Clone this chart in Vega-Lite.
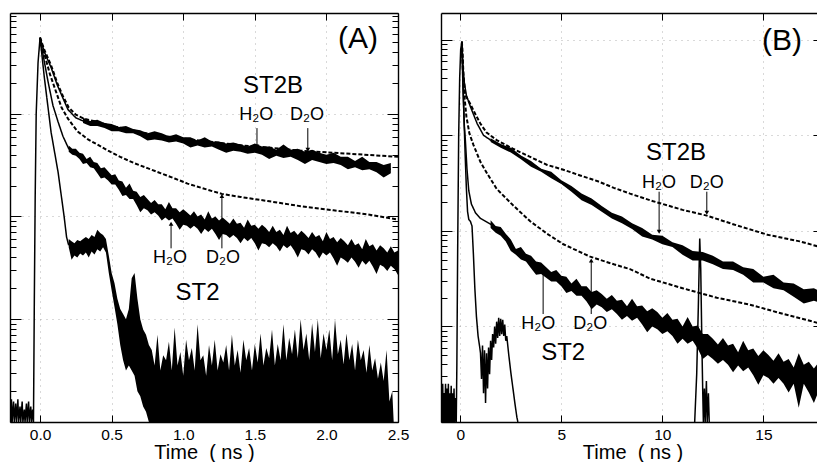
{
"$schema": "https://vega.github.io/schema/vega-lite/v6.json",
"padding": {"left": 9, "top": 12, "right": 0, "bottom": 0},
"background": "white",
"spacing": 43,
"bounds": "flush",
"config": {
  "view": {"stroke": null},
  "font": "Liberation Sans",
  "axis": {"domainColor": "#000", "domainWidth": 1.4, "tickColor": "#000", "tickWidth": 1, "labelColor": "#000", "titleColor": "#000", "labelFont": "Liberation Sans", "titleFont": "Liberation Sans", "labelFontSize": 15.5, "titleFontSize": 20, "titleFontWeight": "normal", "gridColor": "#777", "gridDash": [1, 5], "labelFlush": false, "labelOverlap": false}
},
"hconcat": [
{
  "width": 388, "height": 409,
  "layer": [
    {
      "data": {"name": "bandsA"},
      "mark": {"type": "area", "clip": true, "color": "#000", "opacity": 1},
      "encoding": {
        "x": {"field": "t", "type": "quantitative", "scale": {"domain": [-0.21, 2.5], "nice": false, "zero": false},
              "axis": {"orient": "bottom", "values": [0, 0.5, 1, 1.5, 2, 2.5], "format": ".1f", "title": "Time\u00a0\u00a0( ns )", "tickSize": -7, "labelPadding": 12, "titlePadding": 0, "grid": true, "gridOpacity": 0.55}},
        "y": {"field": "hi", "type": "quantitative", "scale": {"domain": [0, 3.98], "nice": false, "zero": false},
              "axis": {"orient": "left", "labels": false, "title": null, "values": [0,0.301,0.477,0.602,0.699,0.778,0.845,0.903,0.954,1,1.301,1.477,1.602,1.699,1.778,1.845,1.903,1.954,2,2.301,2.477,2.602,2.699,2.778,2.845,2.903,2.954,3,3.301,3.477,3.602,3.699,3.778,3.845,3.903,3.954],
                       "tickSize": {"condition": {"test": "datum.value % 1 === 0", "value": -11}, "value": -6},
                       "grid": true, "gridOpacity": {"condition": {"test": "datum.value % 1 === 0", "value": 0.55}, "value": 0}}},
        "y2": {"field": "lo"},
        "detail": {"field": "series", "type": "nominal"}
      }
    },
    {
      "data": {"name": "curvesA"},
      "mark": {"type": "line", "clip": true, "color": "#000"},
      "encoding": {
        "x": {"field": "t", "type": "quantitative", "scale": {"domain": [-0.21, 2.5], "nice": false, "zero": false}, "axis": null},
        "y": {"field": "logI", "type": "quantitative", "scale": {"domain": [0, 3.98], "nice": false, "zero": false}, "axis": null},
        "detail": {"field": "series", "type": "nominal"},
        "strokeDash": {"field": "style", "type": "nominal", "scale": {"domain": ["solid", "dotted"], "range": [[1, 0], [4, 2]]}, "legend": null},
        "strokeWidth": {"field": "style", "type": "nominal", "scale": {"domain": ["solid", "dotted"], "range": [1.5, 2]}, "legend": null}
      }
    },
    {
      "data": {"name": "annotA"},
      "transform": [{"filter": "datum.kind === 'arrow'"}],
      "mark": {"type": "rule", "color": "#000", "strokeWidth": 1},
      "encoding": {
        "x": {"field": "t", "type": "quantitative", "scale": {"domain": [-0.21, 2.5], "nice": false, "zero": false}, "axis": null},
        "y": {"field": "logI", "type": "quantitative", "scale": {"domain": [0, 3.98], "nice": false, "zero": false}, "axis": null},
        "y2": {"field": "logI2"}
      }
    },
    {
      "data": {"name": "annotA"},
      "transform": [{"filter": "datum.kind === 'arrow'"}],
      "mark": {"type": "point", "filled": true, "color": "#000", "opacity": 1, "size": 22},
      "encoding": {
        "x": {"field": "t", "type": "quantitative", "scale": {"domain": [-0.21, 2.5], "nice": false, "zero": false}, "axis": null},
        "y": {"field": "logI2", "type": "quantitative", "scale": {"domain": [0, 3.98], "nice": false, "zero": false}, "axis": null},
        "shape": {"field": "dir", "type": "nominal", "scale": {"domain": ["down", "up"], "range": ["triangle-down", "triangle-up"]}, "legend": null}
      }
    },
    {
      "data": {"name": "annotA"},
      "transform": [{"filter": "datum.kind !== 'arrow'"}],
      "mark": {"type": "text", "color": "#000", "align": "center", "baseline": "middle", "font": "Liberation Sans"},
      "encoding": {
        "x": {"field": "t", "type": "quantitative", "scale": {"domain": [-0.21, 2.5], "nice": false, "zero": false},
              "axis": {"orient": "top", "values": [0, 0.5, 1, 1.5, 2, 2.5], "labels": false, "title": null, "tickSize": -7, "grid": false}},
        "y": {"field": "logI", "type": "quantitative", "scale": {"domain": [0, 3.98], "nice": false, "zero": false},
              "axis": {"orient": "right", "labels": false, "title": null, "grid": false, "values": [0,0.301,0.477,0.602,0.699,0.778,0.845,0.903,0.954,1,1.301,1.477,1.602,1.699,1.778,1.845,1.903,1.954,2,2.301,2.477,2.602,2.699,2.778,2.845,2.903,2.954,3,3.301,3.477,3.602,3.699,3.778,3.845,3.903,3.954],
                       "tickSize": {"condition": {"test": "datum.value % 1 === 0", "value": -11}, "value": -6}}},
        "text": {"field": "label", "type": "nominal"},
        "size": {"field": "kind", "type": "nominal", "scale": {"domain": ["panel", "name", "solvent"], "range": [30, 18, 15.5]}, "legend": null}
      }
    }
  ],
  "resolve": {"axis": {"x": "independent", "y": "independent"}}
},
{
  "width": 383, "height": 409,
  "layer": [
    {
      "data": {"name": "bandsB"},
      "mark": {"type": "area", "clip": true, "color": "#000", "opacity": 1},
      "encoding": {
        "x": {"field": "t", "type": "quantitative", "scale": {"domain": [-0.955, 18], "nice": false, "zero": false},
              "axis": {"orient": "bottom", "values": [0, 5, 10, 15], "format": "d", "title": "Time\u00a0\u00a0( ns )", "tickSize": -7, "labelPadding": 12, "titlePadding": 0, "grid": true, "gridOpacity": 0.55}},
        "y": {"field": "hi", "type": "quantitative", "scale": {"domain": [0, 4.28], "nice": false, "zero": false},
              "axis": {"orient": "left", "labels": false, "title": null, "values": [0,0.301,0.477,0.602,0.699,0.778,0.845,0.903,0.954,1,1.301,1.477,1.602,1.699,1.778,1.845,1.903,1.954,2,2.301,2.477,2.602,2.699,2.778,2.845,2.903,2.954,3,3.301,3.477,3.602,3.699,3.778,3.845,3.903,3.954,4],
                       "tickSize": {"condition": {"test": "datum.value % 1 === 0", "value": -11}, "value": -6},
                       "grid": true, "gridOpacity": {"condition": {"test": "datum.value % 1 === 0", "value": 0.55}, "value": 0}}},
        "y2": {"field": "lo"},
        "detail": {"field": "series", "type": "nominal"}
      }
    },
    {
      "data": {"name": "curvesB"},
      "mark": {"type": "line", "clip": true, "color": "#000"},
      "encoding": {
        "x": {"field": "t", "type": "quantitative", "scale": {"domain": [-0.955, 18], "nice": false, "zero": false}, "axis": null},
        "y": {"field": "logI", "type": "quantitative", "scale": {"domain": [0, 4.28], "nice": false, "zero": false}, "axis": null},
        "detail": {"field": "series", "type": "nominal"},
        "strokeDash": {"field": "style", "type": "nominal", "scale": {"domain": ["solid", "dotted"], "range": [[1, 0], [4, 2]]}, "legend": null},
        "strokeWidth": {"field": "style", "type": "nominal", "scale": {"domain": ["solid", "dotted"], "range": [1.5, 2]}, "legend": null}
      }
    },
    {
      "data": {"name": "annotB"},
      "transform": [{"filter": "datum.kind === 'arrow'"}],
      "mark": {"type": "rule", "color": "#000", "strokeWidth": 1},
      "encoding": {
        "x": {"field": "t", "type": "quantitative", "scale": {"domain": [-0.955, 18], "nice": false, "zero": false}, "axis": null},
        "y": {"field": "logI", "type": "quantitative", "scale": {"domain": [0, 4.28], "nice": false, "zero": false}, "axis": null},
        "y2": {"field": "logI2"}
      }
    },
    {
      "data": {"name": "annotB"},
      "transform": [{"filter": "datum.kind === 'arrow'"}],
      "mark": {"type": "point", "filled": true, "color": "#000", "opacity": 1, "size": 22},
      "encoding": {
        "x": {"field": "t", "type": "quantitative", "scale": {"domain": [-0.955, 18], "nice": false, "zero": false}, "axis": null},
        "y": {"field": "logI2", "type": "quantitative", "scale": {"domain": [0, 4.28], "nice": false, "zero": false}, "axis": null},
        "shape": {"field": "dir", "type": "nominal", "scale": {"domain": ["down", "up"], "range": ["triangle-down", "triangle-up"]}, "legend": null}
      }
    },
    {
      "data": {"name": "annotB"},
      "transform": [{"filter": "datum.kind !== 'arrow'"}],
      "mark": {"type": "text", "color": "#000", "align": "center", "baseline": "middle", "font": "Liberation Sans"},
      "encoding": {
        "x": {"field": "t", "type": "quantitative", "scale": {"domain": [-0.955, 18], "nice": false, "zero": false},
              "axis": {"orient": "top", "values": [0, 5, 10, 15], "labels": false, "title": null, "tickSize": -7, "grid": false}},
        "y": {"field": "logI", "type": "quantitative", "scale": {"domain": [0, 4.28], "nice": false, "zero": false},
              "axis": {"orient": "right", "labels": false, "title": null, "grid": false, "values": [0,0.301,0.477,0.602,0.699,0.778,0.845,0.903,0.954,1,1.301,1.477,1.602,1.699,1.778,1.845,1.903,1.954,2,2.301,2.477,2.602,2.699,2.778,2.845,2.903,2.954,3,3.301,3.477,3.602,3.699,3.778,3.845,3.903,3.954,4],
                       "tickSize": {"condition": {"test": "datum.value % 1 === 0", "value": -11}, "value": -6}}},
        "text": {"field": "label", "type": "nominal"},
        "size": {"field": "kind", "type": "nominal", "scale": {"domain": ["panel", "name", "solvent"], "range": [30, 18, 15.5]}, "legend": null}
      }
    }
  ],
  "resolve": {"axis": {"x": "independent", "y": "independent"}}
}
],
"datasets": {
"annotA": [
  {"kind": "panel", "label": "(A)", "t": 2.22, "logI": 3.73},
  {"kind": "name", "label": "ST2B", "t": 1.627, "logI": 3.27},
  {"kind": "solvent", "label": "H₂O", "t": 1.51, "logI": 2.99},
  {"kind": "solvent", "label": "D₂O", "t": 1.865, "logI": 2.99},
  {"kind": "solvent", "label": "H₂O", "t": 0.908, "logI": 1.6},
  {"kind": "solvent", "label": "D₂O", "t": 1.278, "logI": 1.6},
  {"kind": "name", "label": "ST2", "t": 1.1, "logI": 1.26},
  {"kind": "arrow", "dir": "down", "t": 1.515, "logI": 2.86, "logI2": 2.68},
  {"kind": "arrow", "dir": "down", "t": 1.87, "logI": 2.86, "logI2": 2.65},
  {"kind": "arrow", "dir": "up", "t": 0.915, "logI": 1.69, "logI2": 1.93},
  {"kind": "arrow", "dir": "up", "t": 1.27, "logI": 1.69, "logI2": 2.2}
],
"annotB": [
  {"kind": "panel", "label": "(B)", "t": 15.92, "logI": 3.99},
  {"kind": "name", "label": "ST2B", "t": 10.68, "logI": 2.81},
  {"kind": "solvent", "label": "H₂O", "t": 9.84, "logI": 2.5},
  {"kind": "solvent", "label": "D₂O", "t": 12.2, "logI": 2.5},
  {"kind": "solvent", "label": "H₂O", "t": 3.86, "logI": 1.03},
  {"kind": "solvent", "label": "D₂O", "t": 6.43, "logI": 1.03},
  {"kind": "name", "label": "ST2", "t": 5.09, "logI": 0.72},
  {"kind": "arrow", "dir": "down", "t": 9.84, "logI": 2.41, "logI2": 1.99},
  {"kind": "arrow", "dir": "down", "t": 12.2, "logI": 2.41, "logI2": 2.19},
  {"kind": "arrow", "dir": "up", "t": 4.1, "logI": 1.13, "logI2": 1.58},
  {"kind": "arrow", "dir": "up", "t": 6.48, "logI": 1.13, "logI2": 1.69}
],
"bandsA": [
{"series":"IRF","t":0.2,"lo":1.7,"hi":1.78},{"series":"IRF","t":0.22,"lo":1.58,"hi":1.76},{"series":"IRF","t":0.24,"lo":1.62,"hi":1.74},{"series":"IRF","t":0.26,"lo":1.6,"hi":1.77},{"series":"IRF","t":0.28,"lo":1.64,"hi":1.76},{"series":"IRF","t":0.3,"lo":1.62,"hi":1.78},{"series":"IRF","t":0.32,"lo":1.65,"hi":1.8},{"series":"IRF","t":0.34,"lo":1.6,"hi":1.78},{"series":"IRF","t":0.36,"lo":1.66,"hi":1.82},{"series":"IRF","t":0.38,"lo":1.63,"hi":1.8},{"series":"IRF","t":0.4,"lo":1.68,"hi":1.87},{"series":"IRF","t":0.42,"lo":1.66,"hi":1.84},{"series":"IRF","t":0.44,"lo":1.7,"hi":1.82},{"series":"IRF","t":0.46,"lo":1.65,"hi":1.78},{"series":"IRF","t":0.48,"lo":1.45,"hi":1.62},{"series":"IRF","t":0.5,"lo":1.28,"hi":1.45},{"series":"IRF","t":0.52,"lo":1.12,"hi":1.35},{"series":"IRF","t":0.54,"lo":0.95,"hi":1.2},{"series":"IRF","t":0.56,"lo":0.75,"hi":1.1},{"series":"IRF","t":0.58,"lo":0.6,"hi":1.05},{"series":"IRF","t":0.6,"lo":0.5,"hi":1.0},{"series":"IRF","t":0.62,"lo":0.55,"hi":1.1},{"series":"IRF","t":0.64,"lo":0.5,"hi":1.4},{"series":"IRF","t":0.66,"lo":0.45,"hi":1.45},{"series":"IRF","t":0.68,"lo":0.3,"hi":1.2},{"series":"IRF","t":0.7,"lo":0.25,"hi":1.0},{"series":"IRF","t":0.72,"lo":0.15,"hi":0.9},{"series":"IRF","t":0.74,"lo":0.1,"hi":0.85},{"series":"IRF","t":0.76,"lo":0,"hi":0.75},
{"series":"IRF","t":0.78,"lo":0,"hi":0.7},{"series":"IRF","t":0.8,"lo":0,"hi":0.55},{"series":"IRF","t":0.82,"lo":0,"hi":0.85},{"series":"IRF","t":0.84,"lo":0,"hi":0.5},{"series":"IRF","t":0.86,"lo":0,"hi":0.65},{"series":"IRF","t":0.88,"lo":0,"hi":0.6},{"series":"IRF","t":0.9,"lo":0,"hi":0.78},{"series":"IRF","t":0.92,"lo":0,"hi":0.5},{"series":"IRF","t":0.94,"lo":0,"hi":0.92},{"series":"IRF","t":0.96,"lo":0,"hi":0.55},{"series":"IRF","t":0.98,"lo":0,"hi":0.68},{"series":"IRF","t":1.0,"lo":0,"hi":0.45},{"series":"IRF","t":1.02,"lo":0,"hi":0.8},{"series":"IRF","t":1.04,"lo":0,"hi":0.6},{"series":"IRF","t":1.06,"lo":0,"hi":0.72},{"series":"IRF","t":1.08,"lo":0,"hi":0.5},{"series":"IRF","t":1.1,"lo":0,"hi":0.95},{"series":"IRF","t":1.12,"lo":0,"hi":0.6},{"series":"IRF","t":1.14,"lo":0,"hi":0.65},{"series":"IRF","t":1.16,"lo":0,"hi":0.45},{"series":"IRF","t":1.18,"lo":0,"hi":0.75},{"series":"IRF","t":1.2,"lo":0,"hi":0.55},{"series":"IRF","t":1.22,"lo":0,"hi":0.8},{"series":"IRF","t":1.24,"lo":0,"hi":0.5},{"series":"IRF","t":1.26,"lo":0,"hi":0.66},{"series":"IRF","t":1.28,"lo":0,"hi":0.58},{"series":"IRF","t":1.3,"lo":0,"hi":0.75},{"series":"IRF","t":1.32,"lo":0,"hi":0.5},{"series":"IRF","t":1.34,"lo":0,"hi":0.85},{"series":"IRF","t":1.36,"lo":0,"hi":0.55},{"series":"IRF","t":1.38,"lo":0,"hi":0.7},{"series":"IRF","t":1.4,"lo":0,"hi":0.48},{"series":"IRF","t":1.42,"lo":0,"hi":0.8},{"series":"IRF","t":1.44,"lo":0,"hi":0.6},{"series":"IRF","t":1.46,"lo":0,"hi":0.72},{"series":"IRF","t":1.48,"lo":0,"hi":0.5},{"series":"IRF","t":1.5,"lo":0,"hi":0.76},{"series":"IRF","t":1.52,"lo":0,"hi":0.58},{"series":"IRF","t":1.54,"lo":0,"hi":0.86},{"series":"IRF","t":1.56,"lo":0,"hi":0.55},{"series":"IRF","t":1.58,"lo":0,"hi":0.72},{"series":"IRF","t":1.6,"lo":0,"hi":0.62},{"series":"IRF","t":1.62,"lo":0,"hi":0.9},{"series":"IRF","t":1.64,"lo":0,"hi":0.55},{"series":"IRF","t":1.66,"lo":0,"hi":0.76},{"series":"IRF","t":1.68,"lo":0,"hi":0.6},{"series":"IRF","t":1.7,"lo":0,"hi":0.95},{"series":"IRF","t":1.72,"lo":0,"hi":0.6},{"series":"IRF","t":1.74,"lo":0,"hi":0.82},{"series":"IRF","t":1.76,"lo":0,"hi":0.66},{"series":"IRF","t":1.78,"lo":0,"hi":0.9},{"series":"IRF","t":1.8,"lo":0,"hi":0.62},{"series":"IRF","t":1.82,"lo":0,"hi":1.0},{"series":"IRF","t":1.84,"lo":0,"hi":0.7},{"series":"IRF","t":1.86,"lo":0,"hi":0.86},{"series":"IRF","t":1.88,"lo":0,"hi":0.6},{"series":"IRF","t":1.9,"lo":0,"hi":0.96},{"series":"IRF","t":1.92,"lo":0,"hi":0.68},{"series":"IRF","t":1.94,"lo":0,"hi":1.0},{"series":"IRF","t":1.96,"lo":0,"hi":0.62},{"series":"IRF","t":1.98,"lo":0,"hi":0.86},{"series":"IRF","t":2.0,"lo":0,"hi":0.7},{"series":"IRF","t":2.02,"lo":0,"hi":0.9},{"series":"IRF","t":2.04,"lo":0,"hi":0.6},{"series":"IRF","t":2.06,"lo":0,"hi":1.0},{"series":"IRF","t":2.08,"lo":0,"hi":0.66},{"series":"IRF","t":2.1,"lo":0,"hi":0.8},{"series":"IRF","t":2.12,"lo":0,"hi":0.56},{"series":"IRF","t":2.14,"lo":0,"hi":0.86},{"series":"IRF","t":2.16,"lo":0,"hi":0.6},{"series":"IRF","t":2.18,"lo":0,"hi":0.76},{"series":"IRF","t":2.2,"lo":0,"hi":0.5},{"series":"IRF","t":2.22,"lo":0,"hi":0.8},{"series":"IRF","t":2.24,"lo":0,"hi":0.6},{"series":"IRF","t":2.26,"lo":0,"hi":0.7},{"series":"IRF","t":2.28,"lo":0,"hi":0.48},{"series":"IRF","t":2.3,"lo":0,"hi":0.75},{"series":"IRF","t":2.32,"lo":0,"hi":0.5},{"series":"IRF","t":2.34,"lo":0,"hi":0.62},{"series":"IRF","t":2.36,"lo":0,"hi":0.42},{"series":"IRF","t":2.38,"lo":0,"hi":0.58},{"series":"IRF","t":2.4,"lo":0,"hi":0.4},{"series":"IRF","t":2.42,"lo":0,"hi":0.7},{"series":"IRF","t":2.44,"lo":0,"hi":0.2},{"series":"IRF","t":2.46,"lo":0,"hi":0.3},{"series":"IRF","t":2.47,"lo":0,"hi":0},
{"series":"ST2_H2O","t":0.2,"lo":2.63,"hi":2.69},{"series":"ST2_H2O","t":0.225,"lo":2.6,"hi":2.66},{"series":"ST2_H2O","t":0.25,"lo":2.59,"hi":2.66},{"series":"ST2_H2O","t":0.275,"lo":2.56,"hi":2.62},{"series":"ST2_H2O","t":0.3,"lo":2.51,"hi":2.61},{"series":"ST2_H2O","t":0.325,"lo":2.52,"hi":2.56},{"series":"ST2_H2O","t":0.35,"lo":2.48,"hi":2.58},{"series":"ST2_H2O","t":0.375,"lo":2.47,"hi":2.53},{"series":"ST2_H2O","t":0.4,"lo":2.42,"hi":2.52},{"series":"ST2_H2O","t":0.425,"lo":2.37,"hi":2.47},{"series":"ST2_H2O","t":0.45,"lo":2.38,"hi":2.48},{"series":"ST2_H2O","t":0.475,"lo":2.35,"hi":2.44},{"series":"ST2_H2O","t":0.5,"lo":2.31,"hi":2.4},{"series":"ST2_H2O","t":0.525,"lo":2.31,"hi":2.41},{"series":"ST2_H2O","t":0.55,"lo":2.26,"hi":2.35},{"series":"ST2_H2O","t":0.575,"lo":2.2,"hi":2.34},{"series":"ST2_H2O","t":0.6,"lo":2.21,"hi":2.28},{"series":"ST2_H2O","t":0.625,"lo":2.17,"hi":2.32},{"series":"ST2_H2O","t":0.65,"lo":2.17,"hi":2.25},{"series":"ST2_H2O","t":0.675,"lo":2.11,"hi":2.24},{"series":"ST2_H2O","t":0.7,"lo":2.04,"hi":2.19},{"series":"ST2_H2O","t":0.725,"lo":2.08,"hi":2.21},{"series":"ST2_H2O","t":0.75,"lo":2.06,"hi":2.17},{"series":"ST2_H2O","t":0.775,"lo":2.02,"hi":2.13},{"series":"ST2_H2O","t":0.8,"lo":2.04,"hi":2.16},{"series":"ST2_H2O","t":0.825,"lo":2.01,"hi":2.12},{"series":"ST2_H2O","t":0.85,"lo":1.96,"hi":2.12},{"series":"ST2_H2O","t":0.875,"lo":1.99,"hi":2.07},{"series":"ST2_H2O","t":0.9,"lo":1.96,"hi":2.14},{"series":"ST2_H2O","t":0.925,"lo":1.98,"hi":2.08},{"series":"ST2_H2O","t":0.95,"lo":1.93,"hi":2.08},{"series":"ST2_H2O","t":0.975,"lo":1.87,"hi":2.04},{"series":"ST2_H2O","t":1.0,"lo":1.92,"hi":2.07},{"series":"ST2_H2O","t":1.025,"lo":1.91,"hi":2.04},{"series":"ST2_H2O","t":1.05,"lo":1.88,"hi":2.01},{"series":"ST2_H2O","t":1.075,"lo":1.91,"hi":2.05},{"series":"ST2_H2O","t":1.1,"lo":1.88,"hi":2.0},{"series":"ST2_H2O","t":1.125,"lo":1.83,"hi":2.02},{"series":"ST2_H2O","t":1.15,"lo":1.88,"hi":1.97},{"series":"ST2_H2O","t":1.175,"lo":1.85,"hi":2.05},{"series":"ST2_H2O","t":1.2,"lo":1.88,"hi":1.98},{"series":"ST2_H2O","t":1.225,"lo":1.83,"hi":2.0},{"series":"ST2_H2O","t":1.25,"lo":1.77,"hi":1.96},{"series":"ST2_H2O","t":1.275,"lo":1.83,"hi":1.99},{"series":"ST2_H2O","t":1.3,"lo":1.82,"hi":1.96},{"series":"ST2_H2O","t":1.325,"lo":1.79,"hi":1.93},{"series":"ST2_H2O","t":1.35,"lo":1.82,"hi":1.98},{"series":"ST2_H2O","t":1.375,"lo":1.79,"hi":1.93},{"series":"ST2_H2O","t":1.4,"lo":1.74,"hi":1.94},{"series":"ST2_H2O","t":1.425,"lo":1.79,"hi":1.89},{"series":"ST2_H2O","t":1.45,"lo":1.76,"hi":1.97},{"series":"ST2_H2O","t":1.475,"lo":1.79,"hi":1.91},{"series":"ST2_H2O","t":1.5,"lo":1.74,"hi":1.92},{"series":"ST2_H2O","t":1.525,"lo":1.67,"hi":1.88},{"series":"ST2_H2O","t":1.55,"lo":1.74,"hi":1.92},{"series":"ST2_H2O","t":1.575,"lo":1.73,"hi":1.89},{"series":"ST2_H2O","t":1.6,"lo":1.7,"hi":1.85},{"series":"ST2_H2O","t":1.625,"lo":1.74,"hi":1.91},{"series":"ST2_H2O","t":1.65,"lo":1.71,"hi":1.85},{"series":"ST2_H2O","t":1.675,"lo":1.66,"hi":1.87},{"series":"ST2_H2O","t":1.7,"lo":1.72,"hi":1.82},{"series":"ST2_H2O","t":1.725,"lo":1.69,"hi":1.91},{"series":"ST2_H2O","t":1.75,"lo":1.72,"hi":1.84},{"series":"ST2_H2O","t":1.775,"lo":1.67,"hi":1.86},{"series":"ST2_H2O","t":1.8,"lo":1.6,"hi":1.82},{"series":"ST2_H2O","t":1.825,"lo":1.68,"hi":1.86},{"series":"ST2_H2O","t":1.85,"lo":1.67,"hi":1.83},{"series":"ST2_H2O","t":1.875,"lo":1.63,"hi":1.79},{"series":"ST2_H2O","t":1.9,"lo":1.68,"hi":1.85},{"series":"ST2_H2O","t":1.925,"lo":1.65,"hi":1.8},{"series":"ST2_H2O","t":1.95,"lo":1.59,"hi":1.82},{"series":"ST2_H2O","t":1.975,"lo":1.65,"hi":1.76},{"series":"ST2_H2O","t":2.0,"lo":1.62,"hi":1.85},{"series":"ST2_H2O","t":2.025,"lo":1.65,"hi":1.78},{"series":"ST2_H2O","t":2.05,"lo":1.59,"hi":1.8},{"series":"ST2_H2O","t":2.075,"lo":1.52,"hi":1.75},{"series":"ST2_H2O","t":2.1,"lo":1.6,"hi":1.79},{"series":"ST2_H2O","t":2.125,"lo":1.58,"hi":1.76},{"series":"ST2_H2O","t":2.15,"lo":1.55,"hi":1.72},{"series":"ST2_H2O","t":2.175,"lo":1.6,"hi":1.78},{"series":"ST2_H2O","t":2.2,"lo":1.56,"hi":1.72},{"series":"ST2_H2O","t":2.225,"lo":1.5,"hi":1.74},{"series":"ST2_H2O","t":2.25,"lo":1.57,"hi":1.68},{"series":"ST2_H2O","t":2.275,"lo":1.53,"hi":1.78},{"series":"ST2_H2O","t":2.3,"lo":1.57,"hi":1.71},{"series":"ST2_H2O","t":2.325,"lo":1.51,"hi":1.73},{"series":"ST2_H2O","t":2.35,"lo":1.44,"hi":1.67},{"series":"ST2_H2O","t":2.375,"lo":1.53,"hi":1.72},{"series":"ST2_H2O","t":2.4,"lo":1.51,"hi":1.69},{"series":"ST2_H2O","t":2.425,"lo":1.47,"hi":1.65},{"series":"ST2_H2O","t":2.45,"lo":1.52,"hi":1.71},{"series":"ST2_H2O","t":2.475,"lo":1.49,"hi":1.65},{"series":"ST2_H2O","t":2.5,"lo":1.43,"hi":1.67},
{"series":"ST2B_H2O","t":0.3,"lo":2.91,"hi":2.96},{"series":"ST2B_H2O","t":0.35,"lo":2.88,"hi":2.93},{"series":"ST2B_H2O","t":0.4,"lo":2.88,"hi":2.94},{"series":"ST2B_H2O","t":0.45,"lo":2.86,"hi":2.91},{"series":"ST2B_H2O","t":0.5,"lo":2.83,"hi":2.9},{"series":"ST2B_H2O","t":0.55,"lo":2.83,"hi":2.87},{"series":"ST2B_H2O","t":0.6,"lo":2.81,"hi":2.88},{"series":"ST2B_H2O","t":0.65,"lo":2.81,"hi":2.85},{"series":"ST2B_H2O","t":0.7,"lo":2.78,"hi":2.84},{"series":"ST2B_H2O","t":0.75,"lo":2.74,"hi":2.81},{"series":"ST2B_H2O","t":0.8,"lo":2.75,"hi":2.83},{"series":"ST2B_H2O","t":0.85,"lo":2.74,"hi":2.81},{"series":"ST2B_H2O","t":0.9,"lo":2.72,"hi":2.78},{"series":"ST2B_H2O","t":0.95,"lo":2.73,"hi":2.8},{"series":"ST2B_H2O","t":1.0,"lo":2.71,"hi":2.77},{"series":"ST2B_H2O","t":1.05,"lo":2.67,"hi":2.77},{"series":"ST2B_H2O","t":1.1,"lo":2.69,"hi":2.74},{"series":"ST2B_H2O","t":1.15,"lo":2.67,"hi":2.77},{"series":"ST2B_H2O","t":1.2,"lo":2.68,"hi":2.73},{"series":"ST2B_H2O","t":1.25,"lo":2.65,"hi":2.73},{"series":"ST2B_H2O","t":1.3,"lo":2.62,"hi":2.71},{"series":"ST2B_H2O","t":1.35,"lo":2.64,"hi":2.72},{"series":"ST2B_H2O","t":1.4,"lo":2.63,"hi":2.7},{"series":"ST2B_H2O","t":1.45,"lo":2.61,"hi":2.68},{"series":"ST2B_H2O","t":1.5,"lo":2.62,"hi":2.71},{"series":"ST2B_H2O","t":1.55,"lo":2.6,"hi":2.68},{"series":"ST2B_H2O","t":1.6,"lo":2.56,"hi":2.68},{"series":"ST2B_H2O","t":1.65,"lo":2.59,"hi":2.65},{"series":"ST2B_H2O","t":1.7,"lo":2.57,"hi":2.7},{"series":"ST2B_H2O","t":1.75,"lo":2.58,"hi":2.65},{"series":"ST2B_H2O","t":1.8,"lo":2.55,"hi":2.66},{"series":"ST2B_H2O","t":1.85,"lo":2.51,"hi":2.63},{"series":"ST2B_H2O","t":1.9,"lo":2.55,"hi":2.65},{"series":"ST2B_H2O","t":1.95,"lo":2.53,"hi":2.62},{"series":"ST2B_H2O","t":2.0,"lo":2.51,"hi":2.6},{"series":"ST2B_H2O","t":2.05,"lo":2.52,"hi":2.62},{"series":"ST2B_H2O","t":2.1,"lo":2.5,"hi":2.58},{"series":"ST2B_H2O","t":2.15,"lo":2.46,"hi":2.58},{"series":"ST2B_H2O","t":2.2,"lo":2.48,"hi":2.54},{"series":"ST2B_H2O","t":2.25,"lo":2.45,"hi":2.58},{"series":"ST2B_H2O","t":2.3,"lo":2.46,"hi":2.53},{"series":"ST2B_H2O","t":2.35,"lo":2.43,"hi":2.53},{"series":"ST2B_H2O","t":2.4,"lo":2.38,"hi":2.5},{"series":"ST2B_H2O","t":2.45,"lo":2.42,"hi":2.52}
],
"bandsB": [
{"series":"ST2_H2O","t":1.5,"lo":2.03,"hi":2.11},{"series":"ST2_H2O","t":1.75,"lo":1.98,"hi":2.05},{"series":"ST2_H2O","t":2.0,"lo":1.95,"hi":2.04},{"series":"ST2_H2O","t":2.25,"lo":1.89,"hi":1.97},{"series":"ST2_H2O","t":2.5,"lo":1.79,"hi":1.91},{"series":"ST2_H2O","t":2.75,"lo":1.75,"hi":1.81},{"series":"ST2_H2O","t":3.0,"lo":1.7,"hi":1.83},{"series":"ST2_H2O","t":3.25,"lo":1.68,"hi":1.76},{"series":"ST2_H2O","t":3.5,"lo":1.61,"hi":1.74},{"series":"ST2_H2O","t":3.75,"lo":1.54,"hi":1.68},{"series":"ST2_H2O","t":4.0,"lo":1.55,"hi":1.67},{"series":"ST2_H2O","t":4.25,"lo":1.51,"hi":1.62},{"series":"ST2_H2O","t":4.5,"lo":1.47,"hi":1.57},{"series":"ST2_H2O","t":4.75,"lo":1.47,"hi":1.59},{"series":"ST2_H2O","t":5.0,"lo":1.42,"hi":1.53},{"series":"ST2_H2O","t":5.25,"lo":1.35,"hi":1.52},{"series":"ST2_H2O","t":5.5,"lo":1.37,"hi":1.45},{"series":"ST2_H2O","t":5.75,"lo":1.32,"hi":1.5},{"series":"ST2_H2O","t":6.0,"lo":1.32,"hi":1.42},{"series":"ST2_H2O","t":6.25,"lo":1.26,"hi":1.42},{"series":"ST2_H2O","t":6.5,"lo":1.18,"hi":1.36},{"series":"ST2_H2O","t":6.75,"lo":1.23,"hi":1.38},{"series":"ST2_H2O","t":7.0,"lo":1.2,"hi":1.34},{"series":"ST2_H2O","t":7.25,"lo":1.15,"hi":1.29},{"series":"ST2_H2O","t":7.5,"lo":1.18,"hi":1.33},{"series":"ST2_H2O","t":7.75,"lo":1.13,"hi":1.27},{"series":"ST2_H2O","t":8.0,"lo":1.07,"hi":1.28},{"series":"ST2_H2O","t":8.25,"lo":1.11,"hi":1.21},{"series":"ST2_H2O","t":8.5,"lo":1.06,"hi":1.29},{"series":"ST2_H2O","t":8.75,"lo":1.09,"hi":1.21},{"series":"ST2_H2O","t":9.0,"lo":1.02,"hi":1.22},{"series":"ST2_H2O","t":9.25,"lo":0.94,"hi":1.16},{"series":"ST2_H2O","t":9.5,"lo":1.0,"hi":1.19},{"series":"ST2_H2O","t":9.75,"lo":0.97,"hi":1.15},{"series":"ST2_H2O","t":10.0,"lo":0.92,"hi":1.09},{"series":"ST2_H2O","t":10.25,"lo":0.95,"hi":1.14},{"series":"ST2_H2O","t":10.5,"lo":0.9,"hi":1.07},{"series":"ST2_H2O","t":10.75,"lo":0.82,"hi":1.08},{"series":"ST2_H2O","t":11.0,"lo":0.87,"hi":1.0},{"series":"ST2_H2O","t":11.25,"lo":0.82,"hi":1.1},{"series":"ST2_H2O","t":11.5,"lo":0.85,"hi":1.0},{"series":"ST2_H2O","t":11.75,"lo":0.77,"hi":1.01},{"series":"ST2_H2O","t":12.0,"lo":0.66,"hi":0.92},{"series":"ST2_H2O","t":12.25,"lo":0.7,"hi":0.92},{"series":"ST2_H2O","t":12.5,"lo":0.66,"hi":0.87},{"series":"ST2_H2O","t":12.75,"lo":0.61,"hi":0.81},{"series":"ST2_H2O","t":13.0,"lo":0.65,"hi":0.88},{"series":"ST2_H2O","t":13.25,"lo":0.6,"hi":0.8},{"series":"ST2_H2O","t":13.5,"lo":0.52,"hi":0.82},{"series":"ST2_H2O","t":13.75,"lo":0.59,"hi":0.73},{"series":"ST2_H2O","t":14.0,"lo":0.53,"hi":0.85},{"series":"ST2_H2O","t":14.25,"lo":0.57,"hi":0.75},{"series":"ST2_H2O","t":14.5,"lo":0.49,"hi":0.77},{"series":"ST2_H2O","t":14.75,"lo":0.39,"hi":0.69},{"series":"ST2_H2O","t":15.0,"lo":0.49,"hi":0.75},{"series":"ST2_H2O","t":15.25,"lo":0.46,"hi":0.7},{"series":"ST2_H2O","t":15.5,"lo":0.4,"hi":0.64},{"series":"ST2_H2O","t":15.75,"lo":0.46,"hi":0.72},{"series":"ST2_H2O","t":16.0,"lo":0.4,"hi":0.63},{"series":"ST2_H2O","t":16.25,"lo":0.31,"hi":0.66},{"series":"ST2_H2O","t":16.5,"lo":0.4,"hi":0.57},{"series":"ST2_H2O","t":16.75,"lo":0.15,"hi":0.72},{"series":"ST2_H2O","t":17.0,"lo":0.4,"hi":0.6},{"series":"ST2_H2O","t":17.25,"lo":0.31,"hi":0.63},{"series":"ST2_H2O","t":17.5,"lo":0.2,"hi":0.56},{"series":"ST2_H2O","t":17.75,"lo":0.33,"hi":0.63},{"series":"ST2_H2O","t":18.0,"lo":0.3,"hi":0.58},
{"series":"ST2B_H2O","t":1.5,"lo":2.93,"hi":2.97},{"series":"ST2B_H2O","t":2.0,"lo":2.87,"hi":2.91},{"series":"ST2B_H2O","t":2.5,"lo":2.82,"hi":2.87},{"series":"ST2B_H2O","t":3.0,"lo":2.75,"hi":2.79},{"series":"ST2B_H2O","t":3.5,"lo":2.67,"hi":2.73},{"series":"ST2B_H2O","t":4.0,"lo":2.62,"hi":2.65},{"series":"ST2B_H2O","t":4.5,"lo":2.55,"hi":2.62},{"series":"ST2B_H2O","t":5.0,"lo":2.49,"hi":2.53},{"series":"ST2B_H2O","t":5.5,"lo":2.41,"hi":2.47},{"series":"ST2B_H2O","t":6.0,"lo":2.32,"hi":2.39},{"series":"ST2B_H2O","t":6.5,"lo":2.27,"hi":2.34},{"series":"ST2B_H2O","t":7.0,"lo":2.2,"hi":2.26},{"series":"ST2B_H2O","t":7.5,"lo":2.13,"hi":2.19},{"series":"ST2B_H2O","t":8.0,"lo":2.08,"hi":2.15},{"series":"ST2B_H2O","t":8.5,"lo":2.02,"hi":2.08},{"series":"ST2B_H2O","t":9.0,"lo":1.94,"hi":2.03},{"series":"ST2B_H2O","t":9.5,"lo":1.91,"hi":1.96},{"series":"ST2B_H2O","t":10.0,"lo":1.86,"hi":1.95},{"series":"ST2B_H2O","t":10.5,"lo":1.83,"hi":1.88},{"series":"ST2B_H2O","t":11.0,"lo":1.75,"hi":1.85},{"series":"ST2B_H2O","t":11.5,"lo":1.69,"hi":1.79},{"series":"ST2B_H2O","t":12.0,"lo":1.69,"hi":1.78},{"series":"ST2B_H2O","t":12.5,"lo":1.65,"hi":1.74},{"series":"ST2B_H2O","t":13.0,"lo":1.6,"hi":1.68},{"series":"ST2B_H2O","t":13.5,"lo":1.59,"hi":1.68},{"series":"ST2B_H2O","t":14.0,"lo":1.54,"hi":1.62},{"series":"ST2B_H2O","t":14.5,"lo":1.46,"hi":1.6},{"series":"ST2B_H2O","t":15.0,"lo":1.46,"hi":1.52},{"series":"ST2B_H2O","t":15.5,"lo":1.4,"hi":1.54},{"series":"ST2B_H2O","t":16.0,"lo":1.38,"hi":1.46},{"series":"ST2B_H2O","t":16.5,"lo":1.31,"hi":1.45},{"series":"ST2B_H2O","t":17.0,"lo":1.24,"hi":1.39},{"series":"ST2B_H2O","t":17.5,"lo":1.27,"hi":1.4},{"series":"ST2B_H2O","t":18.0,"lo":1.23,"hi":1.35}
],
"curvesA": [
{"series":"IRF","style":"solid","t":-0.205,"logI":0},{"series":"IRF","style":"solid","t":-0.2,"logI":0.22},{"series":"IRF","style":"solid","t":-0.195,"logI":0},{"series":"IRF","style":"solid","t":-0.185,"logI":0.2},{"series":"IRF","style":"solid","t":-0.18,"logI":0},{"series":"IRF","style":"solid","t":-0.17,"logI":0.18},{"series":"IRF","style":"solid","t":-0.165,"logI":0},{"series":"IRF","style":"solid","t":-0.155,"logI":0.22},{"series":"IRF","style":"solid","t":-0.15,"logI":0},{"series":"IRF","style":"solid","t":-0.14,"logI":0.15},{"series":"IRF","style":"solid","t":-0.135,"logI":0},{"series":"IRF","style":"solid","t":-0.125,"logI":0.2},{"series":"IRF","style":"solid","t":-0.12,"logI":0},{"series":"IRF","style":"solid","t":-0.11,"logI":0.12},{"series":"IRF","style":"solid","t":-0.105,"logI":0},{"series":"IRF","style":"solid","t":-0.095,"logI":0.18},{"series":"IRF","style":"solid","t":-0.09,"logI":0},{"series":"IRF","style":"solid","t":-0.08,"logI":0.2},{"series":"IRF","style":"solid","t":-0.075,"logI":0},{"series":"IRF","style":"solid","t":-0.065,"logI":0.15},{"series":"IRF","style":"solid","t":-0.06,"logI":0},{"series":"IRF","style":"solid","t":-0.052,"logI":0.12},{"series":"IRF","style":"solid","t":-0.046,"logI":0},
{"series":"IRF","style":"solid","t":-0.04,"logI":1.2},{"series":"IRF","style":"solid","t":-0.034,"logI":2.2},{"series":"IRF","style":"solid","t":-0.027,"logI":3.0},{"series":"IRF","style":"solid","t":-0.014,"logI":3.5},{"series":"IRF","style":"solid","t":0,"logI":3.74},{"series":"IRF","style":"solid","t":0.03,"logI":3.35},{"series":"IRF","style":"solid","t":0.077,"logI":2.82},{"series":"IRF","style":"solid","t":0.126,"logI":2.43},{"series":"IRF","style":"solid","t":0.168,"logI":2.0},{"series":"IRF","style":"solid","t":0.185,"logI":1.8},{"series":"IRF","style":"solid","t":0.2,"logI":1.72},
{"series":"ST2_H2O","style":"solid","t":0,"logI":3.74},{"series":"ST2_H2O","style":"solid","t":0.02,"logI":3.58},{"series":"ST2_H2O","style":"solid","t":0.056,"logI":3.31},{"series":"ST2_H2O","style":"solid","t":0.09,"logI":3.08},{"series":"ST2_H2O","style":"solid","t":0.126,"logI":2.92},{"series":"ST2_H2O","style":"solid","t":0.16,"logI":2.78},{"series":"ST2_H2O","style":"solid","t":0.2,"logI":2.66},{"series":"ST2_H2O","style":"solid","t":0.3,"logI":2.57},{"series":"ST2_H2O","style":"solid","t":0.4,"logI":2.47},{"series":"ST2_H2O","style":"solid","t":0.5,"logI":2.37},{"series":"ST2_H2O","style":"solid","t":0.6,"logI":2.25},{"series":"ST2_H2O","style":"solid","t":0.7,"logI":2.15},{"series":"ST2_H2O","style":"solid","t":0.8,"logI":2.08},{"series":"ST2_H2O","style":"solid","t":0.9,"logI":2.03},{"series":"ST2_H2O","style":"solid","t":1.0,"logI":1.98},{"series":"ST2_H2O","style":"solid","t":1.2,"logI":1.92},{"series":"ST2_H2O","style":"solid","t":1.4,"logI":1.86},{"series":"ST2_H2O","style":"solid","t":1.6,"logI":1.8},{"series":"ST2_H2O","style":"solid","t":1.8,"logI":1.76},{"series":"ST2_H2O","style":"solid","t":2.0,"logI":1.71},{"series":"ST2_H2O","style":"solid","t":2.2,"logI":1.65},{"series":"ST2_H2O","style":"solid","t":2.4,"logI":1.6},{"series":"ST2_H2O","style":"solid","t":2.5,"logI":1.57},
{"series":"ST2_D2O","style":"dotted","t":0,"logI":3.74},{"series":"ST2_D2O","style":"dotted","t":0.03,"logI":3.58},{"series":"ST2_D2O","style":"dotted","t":0.07,"logI":3.38},{"series":"ST2_D2O","style":"dotted","t":0.11,"logI":3.22},{"series":"ST2_D2O","style":"dotted","t":0.15,"logI":3.06},{"series":"ST2_D2O","style":"dotted","t":0.196,"logI":2.95},{"series":"ST2_D2O","style":"dotted","t":0.26,"logI":2.83},{"series":"ST2_D2O","style":"dotted","t":0.335,"logI":2.75},{"series":"ST2_D2O","style":"dotted","t":0.4,"logI":2.7},{"series":"ST2_D2O","style":"dotted","t":0.475,"logI":2.64},{"series":"ST2_D2O","style":"dotted","t":0.56,"logI":2.58},{"series":"ST2_D2O","style":"dotted","t":0.656,"logI":2.52},{"series":"ST2_D2O","style":"dotted","t":0.75,"logI":2.47},{"series":"ST2_D2O","style":"dotted","t":0.845,"logI":2.42},{"series":"ST2_D2O","style":"dotted","t":0.94,"logI":2.37},{"series":"ST2_D2O","style":"dotted","t":1.03,"logI":2.32},{"series":"ST2_D2O","style":"dotted","t":1.17,"logI":2.26},{"series":"ST2_D2O","style":"dotted","t":1.27,"logI":2.22},{"series":"ST2_D2O","style":"dotted","t":1.4,"logI":2.19},{"series":"ST2_D2O","style":"dotted","t":1.59,"logI":2.15},{"series":"ST2_D2O","style":"dotted","t":1.82,"logI":2.1},{"series":"ST2_D2O","style":"dotted","t":2.05,"logI":2.06},{"series":"ST2_D2O","style":"dotted","t":2.29,"logI":2.02},{"series":"ST2_D2O","style":"dotted","t":2.5,"logI":1.97},
{"series":"ST2B_D2O","style":"dotted","t":0,"logI":3.74},{"series":"ST2B_D2O","style":"dotted","t":0.03,"logI":3.62},{"series":"ST2B_D2O","style":"dotted","t":0.077,"logI":3.47},{"series":"ST2B_D2O","style":"dotted","t":0.12,"logI":3.3},{"series":"ST2B_D2O","style":"dotted","t":0.16,"logI":3.17},{"series":"ST2B_D2O","style":"dotted","t":0.2,"logI":3.06},{"series":"ST2B_D2O","style":"dotted","t":0.25,"logI":2.99},{"series":"ST2B_D2O","style":"dotted","t":0.31,"logI":2.95},{"series":"ST2B_D2O","style":"dotted","t":0.4,"logI":2.92},{"series":"ST2B_D2O","style":"dotted","t":0.5,"logI":2.88},{"series":"ST2B_D2O","style":"dotted","t":0.61,"logI":2.85},{"series":"ST2B_D2O","style":"dotted","t":0.775,"logI":2.8},{"series":"ST2B_D2O","style":"dotted","t":0.985,"logI":2.76},{"series":"ST2B_D2O","style":"dotted","t":1.17,"logI":2.73},{"series":"ST2B_D2O","style":"dotted","t":1.42,"logI":2.69},{"series":"ST2B_D2O","style":"dotted","t":1.6,"logI":2.67},{"series":"ST2B_D2O","style":"dotted","t":1.82,"logI":2.64},{"series":"ST2B_D2O","style":"dotted","t":2.05,"logI":2.62},{"series":"ST2B_D2O","style":"dotted","t":2.17,"logI":2.61},{"series":"ST2B_D2O","style":"dotted","t":2.5,"logI":2.58},
{"series":"ST2B_H2O","style":"solid","t":0,"logI":3.74},{"series":"ST2B_H2O","style":"solid","t":0.03,"logI":3.6},{"series":"ST2B_H2O","style":"solid","t":0.077,"logI":3.45},{"series":"ST2B_H2O","style":"solid","t":0.12,"logI":3.28},{"series":"ST2B_H2O","style":"solid","t":0.16,"logI":3.15},{"series":"ST2B_H2O","style":"solid","t":0.195,"logI":3.04},{"series":"ST2B_H2O","style":"solid","t":0.25,"logI":2.96},{"series":"ST2B_H2O","style":"solid","t":0.3,"logI":2.93},{"series":"ST2B_H2O","style":"solid","t":0.5,"logI":2.87},{"series":"ST2B_H2O","style":"solid","t":0.75,"logI":2.79},{"series":"ST2B_H2O","style":"solid","t":1.0,"logI":2.74},{"series":"ST2B_H2O","style":"solid","t":1.25,"logI":2.69},{"series":"ST2B_H2O","style":"solid","t":1.5,"logI":2.65},{"series":"ST2B_H2O","style":"solid","t":1.75,"logI":2.61},{"series":"ST2B_H2O","style":"solid","t":2.0,"logI":2.57},{"series":"ST2B_H2O","style":"solid","t":2.25,"logI":2.5},{"series":"ST2B_H2O","style":"solid","t":2.45,"logI":2.46}
],
"curvesB": [
{"series":"IRF1","style":"solid","t":-0.955,"logI":0},{"series":"IRF1","style":"solid","t":-0.93,"logI":0.35},{"series":"IRF1","style":"solid","t":-0.9,"logI":0},{"series":"IRF1","style":"solid","t":-0.87,"logI":0.4},{"series":"IRF1","style":"solid","t":-0.84,"logI":0},{"series":"IRF1","style":"solid","t":-0.8,"logI":0.3},{"series":"IRF1","style":"solid","t":-0.77,"logI":0},{"series":"IRF1","style":"solid","t":-0.73,"logI":0.4},{"series":"IRF1","style":"solid","t":-0.7,"logI":0},{"series":"IRF1","style":"solid","t":-0.66,"logI":0.35},{"series":"IRF1","style":"solid","t":-0.63,"logI":0},{"series":"IRF1","style":"solid","t":-0.59,"logI":0.4},{"series":"IRF1","style":"solid","t":-0.56,"logI":0},{"series":"IRF1","style":"solid","t":-0.52,"logI":0.3},{"series":"IRF1","style":"solid","t":-0.49,"logI":0},{"series":"IRF1","style":"solid","t":-0.45,"logI":0.38},{"series":"IRF1","style":"solid","t":-0.42,"logI":0},{"series":"IRF1","style":"solid","t":-0.38,"logI":0.3},{"series":"IRF1","style":"solid","t":-0.35,"logI":0},{"series":"IRF1","style":"solid","t":-0.31,"logI":0.35},{"series":"IRF1","style":"solid","t":-0.28,"logI":0},{"series":"IRF1","style":"solid","t":-0.24,"logI":0.25},{"series":"IRF1","style":"solid","t":-0.2,"logI":0},
{"series":"IRF1","style":"solid","t":-0.17,"logI":0.6},{"series":"IRF1","style":"solid","t":-0.13,"logI":1.8},{"series":"IRF1","style":"solid","t":-0.08,"logI":3.0},{"series":"IRF1","style":"solid","t":-0.03,"logI":3.6},{"series":"IRF1","style":"solid","t":0.02,"logI":3.9},{"series":"IRF1","style":"solid","t":0.08,"logI":3.98},{"series":"IRF1","style":"solid","t":0.13,"logI":3.6},{"series":"IRF1","style":"solid","t":0.18,"logI":3.2},{"series":"IRF1","style":"solid","t":0.24,"logI":2.8},{"series":"IRF1","style":"solid","t":0.3,"logI":2.45},{"series":"IRF1","style":"solid","t":0.36,"logI":2.2},{"series":"IRF1","style":"solid","t":0.42,"logI":2.12},{"series":"IRF1","style":"solid","t":0.5,"logI":2.1},{"series":"IRF1","style":"solid","t":0.58,"logI":2.05},{"series":"IRF1","style":"solid","t":0.65,"logI":1.75},{"series":"IRF1","style":"solid","t":0.72,"logI":1.4},{"series":"IRF1","style":"solid","t":0.8,"logI":1.1},{"series":"IRF1","style":"solid","t":0.88,"logI":0.9},{"series":"IRF1","style":"solid","t":0.95,"logI":0.8},{"series":"IRF1","style":"solid","t":1.0,"logI":0.72},{"series":"IRF1","style":"solid","t":1.05,"logI":0.45},{"series":"IRF1","style":"solid","t":1.1,"logI":0.8},{"series":"IRF1","style":"solid","t":1.15,"logI":0.3},{"series":"IRF1","style":"solid","t":1.2,"logI":0.75},{"series":"IRF1","style":"solid","t":1.25,"logI":0.2},{"series":"IRF1","style":"solid","t":1.3,"logI":0.72},{"series":"IRF1","style":"solid","t":1.35,"logI":0.35},{"series":"IRF1","style":"solid","t":1.4,"logI":0.78},{"series":"IRF1","style":"solid","t":1.45,"logI":0.5},{"series":"IRF1","style":"solid","t":1.5,"logI":0.85},{"series":"IRF1","style":"solid","t":1.55,"logI":0.65},{"series":"IRF1","style":"solid","t":1.6,"logI":0.92},{"series":"IRF1","style":"solid","t":1.65,"logI":0.78},{"series":"IRF1","style":"solid","t":1.7,"logI":1.0},{"series":"IRF1","style":"solid","t":1.75,"logI":0.82},{"series":"IRF1","style":"solid","t":1.8,"logI":1.05},{"series":"IRF1","style":"solid","t":1.85,"logI":0.88},{"series":"IRF1","style":"solid","t":1.9,"logI":1.09},{"series":"IRF1","style":"solid","t":1.95,"logI":0.9},{"series":"IRF1","style":"solid","t":2.0,"logI":1.08},{"series":"IRF1","style":"solid","t":2.05,"logI":0.92},{"series":"IRF1","style":"solid","t":2.1,"logI":1.07},{"series":"IRF1","style":"solid","t":2.15,"logI":0.9},{"series":"IRF1","style":"solid","t":2.2,"logI":1.02},{"series":"IRF1","style":"solid","t":2.25,"logI":0.85},{"series":"IRF1","style":"solid","t":2.3,"logI":0.9},{"series":"IRF1","style":"solid","t":2.4,"logI":0.7},{"series":"IRF1","style":"solid","t":2.5,"logI":0.52},{"series":"IRF1","style":"solid","t":2.6,"logI":0.36},{"series":"IRF1","style":"solid","t":2.7,"logI":0.2},{"series":"IRF1","style":"solid","t":2.8,"logI":0.05},{"series":"IRF1","style":"solid","t":2.85,"logI":0},
{"series":"IRF2","style":"solid","t":11.6,"logI":0},{"series":"IRF2","style":"solid","t":11.7,"logI":0.5},{"series":"IRF2","style":"solid","t":11.78,"logI":1.2},{"series":"IRF2","style":"solid","t":11.85,"logI":1.92},{"series":"IRF2","style":"solid","t":11.9,"logI":1.6},{"series":"IRF2","style":"solid","t":11.95,"logI":0.9},{"series":"IRF2","style":"solid","t":12.0,"logI":0.3},{"series":"IRF2","style":"solid","t":12.03,"logI":0},{"series":"IRF2","style":"solid","t":12.08,"logI":0.35},{"series":"IRF2","style":"solid","t":12.12,"logI":0},{"series":"IRF2","style":"solid","t":12.18,"logI":0.43},{"series":"IRF2","style":"solid","t":12.22,"logI":0},{"series":"IRF2","style":"solid","t":12.28,"logI":0.3},{"series":"IRF2","style":"solid","t":12.32,"logI":0},
{"series":"ST2B_D2O","style":"dotted","t":0.08,"logI":3.98},{"series":"ST2B_D2O","style":"dotted","t":0.16,"logI":3.62},{"series":"ST2B_D2O","style":"dotted","t":0.25,"logI":3.42},{"series":"ST2B_D2O","style":"dotted","t":0.49,"logI":3.33},{"series":"ST2B_D2O","style":"dotted","t":0.75,"logI":3.22},{"series":"ST2B_D2O","style":"dotted","t":1.0,"logI":3.12},{"series":"ST2B_D2O","style":"dotted","t":1.3,"logI":3.03},{"series":"ST2B_D2O","style":"dotted","t":1.8,"logI":2.95},{"series":"ST2B_D2O","style":"dotted","t":2.6,"logI":2.86},{"series":"ST2B_D2O","style":"dotted","t":3.4,"logI":2.78},{"series":"ST2B_D2O","style":"dotted","t":4.3,"logI":2.69},{"series":"ST2B_D2O","style":"dotted","t":5.1,"logI":2.64},{"series":"ST2B_D2O","style":"dotted","t":5.93,"logI":2.58},{"series":"ST2B_D2O","style":"dotted","t":6.8,"logI":2.52},{"series":"ST2B_D2O","style":"dotted","t":7.6,"logI":2.45},{"series":"ST2B_D2O","style":"dotted","t":8.4,"logI":2.39},{"series":"ST2B_D2O","style":"dotted","t":9.55,"logI":2.31},{"series":"ST2B_D2O","style":"dotted","t":11.0,"logI":2.22},{"series":"ST2B_D2O","style":"dotted","t":12.2,"logI":2.16},{"series":"ST2B_D2O","style":"dotted","t":13.5,"logI":2.07},{"series":"ST2B_D2O","style":"dotted","t":15.2,"logI":1.96},{"series":"ST2B_D2O","style":"dotted","t":16.8,"logI":1.89},{"series":"ST2B_D2O","style":"dotted","t":18.0,"logI":1.82},
{"series":"ST2B_H2O","style":"solid","t":0.08,"logI":3.98},{"series":"ST2B_H2O","style":"solid","t":0.13,"logI":3.72},{"series":"ST2B_H2O","style":"solid","t":0.2,"logI":3.55},{"series":"ST2B_H2O","style":"solid","t":0.3,"logI":3.42},{"series":"ST2B_H2O","style":"solid","t":0.5,"logI":3.3},{"series":"ST2B_H2O","style":"solid","t":0.84,"logI":3.12},{"series":"ST2B_H2O","style":"solid","t":1.15,"logI":3.0},{"series":"ST2B_H2O","style":"solid","t":1.5,"logI":2.95},{"series":"ST2B_H2O","style":"solid","t":2.6,"logI":2.83},{"series":"ST2B_H2O","style":"solid","t":3.4,"logI":2.72},{"series":"ST2B_H2O","style":"solid","t":4.3,"logI":2.6},{"series":"ST2B_H2O","style":"solid","t":5.1,"logI":2.49},{"series":"ST2B_H2O","style":"solid","t":5.93,"logI":2.38},{"series":"ST2B_H2O","style":"solid","t":6.8,"logI":2.26},{"series":"ST2B_H2O","style":"solid","t":7.7,"logI":2.14},{"series":"ST2B_H2O","style":"solid","t":8.4,"logI":2.06},{"series":"ST2B_H2O","style":"solid","t":9.4,"logI":1.95},{"series":"ST2B_H2O","style":"solid","t":11.0,"logI":1.8},{"series":"ST2B_H2O","style":"solid","t":12.7,"logI":1.68},{"series":"ST2B_H2O","style":"solid","t":14.3,"logI":1.56},{"series":"ST2B_H2O","style":"solid","t":16.0,"logI":1.41},{"series":"ST2B_H2O","style":"solid","t":17.5,"logI":1.32},{"series":"ST2B_H2O","style":"solid","t":18.0,"logI":1.29},
{"series":"ST2_D2O","style":"dotted","t":0.08,"logI":3.98},{"series":"ST2_D2O","style":"dotted","t":0.14,"logI":3.6},{"series":"ST2_D2O","style":"dotted","t":0.2,"logI":3.42},{"series":"ST2_D2O","style":"dotted","t":0.3,"logI":3.2},{"series":"ST2_D2O","style":"dotted","t":0.45,"logI":3.02},{"series":"ST2_D2O","style":"dotted","t":0.65,"logI":2.9},{"series":"ST2_D2O","style":"dotted","t":1.0,"logI":2.72},{"series":"ST2_D2O","style":"dotted","t":1.33,"logI":2.6},{"series":"ST2_D2O","style":"dotted","t":1.8,"logI":2.44},{"series":"ST2_D2O","style":"dotted","t":2.6,"logI":2.27},{"series":"ST2_D2O","style":"dotted","t":3.46,"logI":2.1},{"series":"ST2_D2O","style":"dotted","t":4.3,"logI":1.97},{"series":"ST2_D2O","style":"dotted","t":5.1,"logI":1.86},{"series":"ST2_D2O","style":"dotted","t":6.43,"logI":1.73},{"series":"ST2_D2O","style":"dotted","t":7.6,"logI":1.65},{"series":"ST2_D2O","style":"dotted","t":8.4,"logI":1.6},{"series":"ST2_D2O","style":"dotted","t":9.4,"logI":1.5},{"series":"ST2_D2O","style":"dotted","t":11.0,"logI":1.4},{"series":"ST2_D2O","style":"dotted","t":12.7,"logI":1.3},{"series":"ST2_D2O","style":"dotted","t":14.3,"logI":1.23},{"series":"ST2_D2O","style":"dotted","t":16.0,"logI":1.13},{"series":"ST2_D2O","style":"dotted","t":18.0,"logI":1.02},
{"series":"ST2_H2O","style":"solid","t":0.08,"logI":3.98},{"series":"ST2_H2O","style":"solid","t":0.13,"logI":3.5},{"series":"ST2_H2O","style":"solid","t":0.2,"logI":3.1},{"series":"ST2_H2O","style":"solid","t":0.25,"logI":2.95},{"series":"ST2_H2O","style":"solid","t":0.33,"logI":2.65},{"series":"ST2_H2O","style":"solid","t":0.42,"logI":2.42},{"series":"ST2_H2O","style":"solid","t":0.55,"logI":2.28},{"series":"ST2_H2O","style":"solid","t":0.75,"logI":2.19},{"series":"ST2_H2O","style":"solid","t":1.0,"logI":2.13},{"series":"ST2_H2O","style":"solid","t":1.5,"logI":2.07},{"series":"ST2_H2O","style":"solid","t":2.13,"logI":1.96},{"series":"ST2_H2O","style":"solid","t":2.8,"logI":1.78},{"series":"ST2_H2O","style":"solid","t":3.46,"logI":1.68},{"series":"ST2_H2O","style":"solid","t":4.3,"logI":1.56},{"series":"ST2_H2O","style":"solid","t":5.1,"logI":1.47},{"series":"ST2_H2O","style":"solid","t":5.93,"logI":1.37},{"series":"ST2_H2O","style":"solid","t":7.07,"logI":1.26},{"series":"ST2_H2O","style":"solid","t":7.76,"logI":1.21},{"series":"ST2_H2O","style":"solid","t":8.4,"logI":1.16},{"series":"ST2_H2O","style":"solid","t":9.4,"logI":1.09},{"series":"ST2_H2O","style":"solid","t":11.0,"logI":0.95},{"series":"ST2_H2O","style":"solid","t":11.9,"logI":0.88},{"series":"ST2_H2O","style":"solid","t":12.3,"logI":0.78},{"series":"ST2_H2O","style":"solid","t":12.7,"logI":0.75},{"series":"ST2_H2O","style":"solid","t":14.3,"logI":0.64},{"series":"ST2_H2O","style":"solid","t":16.0,"logI":0.53},{"series":"ST2_H2O","style":"solid","t":17.5,"logI":0.46},{"series":"ST2_H2O","style":"solid","t":18.0,"logI":0.44}
]
}
}
